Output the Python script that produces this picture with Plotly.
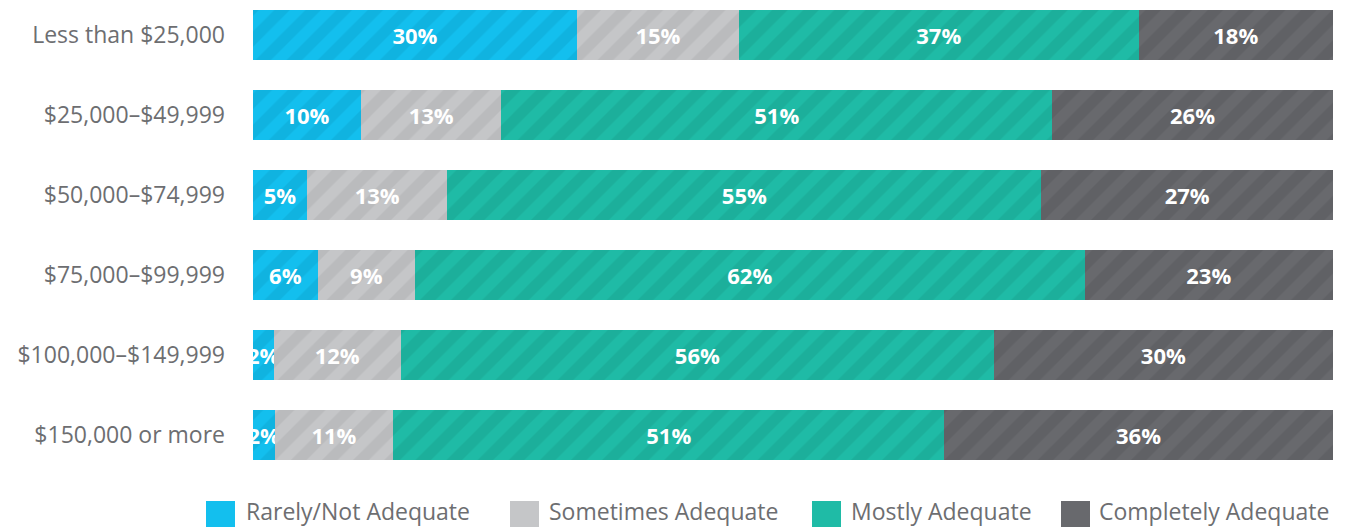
import plotly.graph_objects as go

categories = ["Less than $25,000", "$25,000–$49,999", "$50,000–$74,999",
              "$75,000–$99,999", "$100,000–$149,999", "$150,000 or more"]
series_names = ["Rarely/Not Adequate", "Sometimes Adequate", "Mostly Adequate", "Completely Adequate"]

# bar lengths (percent)
rarely = [30, 10, 5, 6, 1.9, 2]
sometimes = [15, 13, 13, 9, 11.8, 11]
mostly = [37, 51, 55, 62, 54.9, 51]
completely = [18, 26, 27, 23, 31.4, 36]

# printed labels
rarely_lbl = ["30%", "10%", "5%", "6%", "2%", "2%"]
sometimes_lbl = ["15%", "13%", "13%", "9%", "12%", "11%"]
mostly_lbl = ["37%", "51%", "55%", "62%", "56%", "51%"]
completely_lbl = ["18%", "26%", "27%", "23%", "30%", "36%"]

colors = ["#13BFEE", "#C5C6C8", "#1FBBA6", "#68696D"]
stripe = ["#10B3E0", "#BABBBD", "#1CAF9B", "#606165"]

FONT = "Open Sans"
TEXT_GREY = "#6D6E71"

values = [rarely, sometimes, mostly, completely]
labels = [rarely_lbl, sometimes_lbl, mostly_lbl, completely_lbl]
ypos = list(range(len(categories)))

fig = go.Figure()
for name, vals, lbls, col, sc in zip(series_names, values, labels, colors, stripe):
    fig.add_trace(go.Bar(
        y=ypos, x=vals, orientation="h", name=name, width=0.625,
        text=lbls, textposition="inside", insidetextanchor="middle",
        textangle=0, constraintext="none",
        textfont=dict(family=FONT, size=22, color="white", weight="bold"),
        marker=dict(color=col, line=dict(width=0),
                    pattern=dict(shape="/", fillmode="replace", bgcolor=col,
                                 fgcolor=sc, size=22, solidity=0.5)),
        showlegend=False, hoverinfo="skip",
    ))

# figure geometry (page body adds an 8px offset)
W, H = 1329, 519
PL, PW, PH = 245.0, 1080.0, 460.0

# legend drawn as squares + labels in paper coords
leg_square_x = [198, 502, 804, 1053]
leg_text_x = [239, 542, 844, 1092]
shapes = []
annotations = []
for name, col, sx, tx in zip(series_names, colors, leg_square_x, leg_text_x):
    shapes.append(dict(type="rect", xref="paper", yref="paper",
                       x0=(sx - PL) / PW, x1=(sx + 29 - PL) / PW,
                       y0=(PH - 493) / PH, y1=(PH - 523) / PH,
                       fillcolor=col, line=dict(width=0)))
    annotations.append(dict(text=name, xref="paper", yref="paper",
                            x=(tx - PL) / PW, y=(PH - 503) / PH,
                            xanchor="left", yanchor="middle", showarrow=False,
                            xshift=-2, borderpad=0,
                            font=dict(family=FONT, size=23, color=TEXT_GREY)))

fig.update_layout(
    barmode="stack",
    width=W, height=H,
    margin=dict(l=PL, r=W - PL - PW, t=0, b=H - PH, pad=0, autoexpand=False),
    plot_bgcolor="white", paper_bgcolor="white",
    showlegend=False,
    font=dict(family=FONT, color=TEXT_GREY),
    xaxis=dict(range=[0, 100], visible=False, fixedrange=True, automargin=False),
    yaxis=dict(range=[-0.3375 + PH / 80.0, -0.3375], tickvals=ypos, ticktext=categories,
               showgrid=False, zeroline=False, showline=False, ticks="",
               automargin=False,
               ticklabelstandoff=27, tickfont=dict(family=FONT, size=23, color=TEXT_GREY)),
    shapes=shapes,
    annotations=annotations,
)

fig.write_html("out.html")
